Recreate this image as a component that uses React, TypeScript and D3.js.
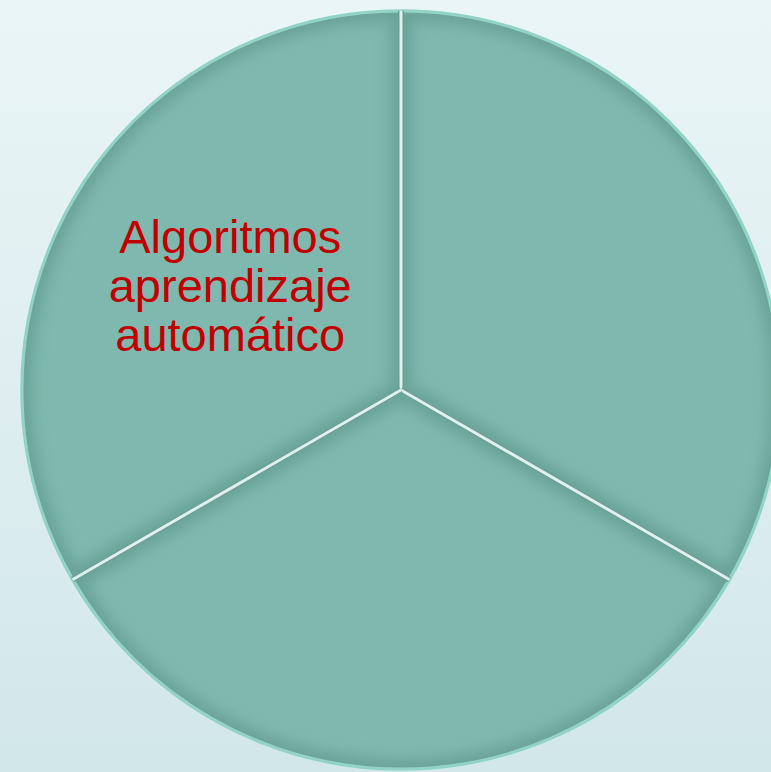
import * as d3 from "d3";

const etiquetas = ["", "", "Algoritmos aprendizaje automático"];
const valores = [1, 1, 1];

const ANCHO = 771;
const ALTO = 772;

export default function App() {
  const cx = 401;
  const cy = 390;
  const radio = 380;

  const pie = d3.pie<number>().sort(null).startAngle(0).endAngle(2 * Math.PI);
  const arcos = pie(valores);
  const arco = d3.arc<d3.PieArcDatum<number>>().innerRadius(0).outerRadius(radio);
  const arcoEtiqueta = d3.arc<d3.PieArcDatum<number>>().innerRadius(0).outerRadius(radio * 1.05);

  return (
    <svg
      width={ANCHO}
      height={ALTO}
      viewBox={`0 0 ${ANCHO} ${ALTO}`}
      style={{ position: "fixed", top: 0, left: 0, display: "block" }}
    >
      <defs>
        <linearGradient id="fondo" x1="0" y1="0" x2="0" y2="1">
          <stop offset="0%" stopColor="#eaf5f7" />
          <stop offset="100%" stopColor="#d2e7ea" />
        </linearGradient>
        <filter id="desenfoque" x="-20%" y="-20%" width="140%" height="140%">
          <feGaussianBlur stdDeviation="7" />
        </filter>
        {arcos.map((a, i) => (
          <clipPath key={i} id={`recorte-${i}`}>
            <path d={arco(a) || ""} />
          </clipPath>
        ))}
      </defs>
      <rect width={ANCHO} height={ALTO} fill="url(#fondo)" />
      <g transform={`translate(${cx},${cy})`}>
        {arcos.map((a, i) => (
          <g key={i} clipPath={`url(#recorte-${i})`}>
            <path d={arco(a) || ""} fill="#7fb8ae" />
            <path
              d={arco(a) || ""}
              fill="none"
              stroke="#4f8a80"
              strokeOpacity={0.45}
              strokeWidth={22}
              filter="url(#desenfoque)"
            />
            <path d={arco(a) || ""} fill="none" stroke="#9fe0d2" strokeWidth={5} strokeOpacity={0.8} />
          </g>
        ))}
        {arcos.map((a, i) => {
          const ang = a.startAngle;
          const x2 = Math.sin(ang) * radio;
          const y2 = -Math.cos(ang) * radio;
          return (
            <g key={`sep-${i}`}>
              <line x1={0} y1={0} x2={x2} y2={y2} stroke="#6a9f96" strokeWidth={6} />
              <line x1={0} y1={0} x2={x2} y2={y2} stroke="#dff0ef" strokeWidth={3} />
            </g>
          );
        })}
        <circle r={radio} fill="none" stroke="#8fd3c6" strokeWidth={1.5} />
        {arcos.map((a, i) => {
          if (!etiquetas[i]) return null;
          const [tx, ty] = arcoEtiqueta.centroid(a);
          const lineas = etiquetas[i].split(" ");
          const interlineado = 49;
          return (
            <text
              key={`t-${i}`}
              x={tx}
              y={ty}
              textAnchor="middle"
              fill="#c00000"
              fontFamily="'Liberation Sans', Arial, sans-serif"
              fontSize={47}
            >
              {lineas.map((l, j) => (
                <tspan key={j} x={tx + 2} y={ty + (j - (lineas.length - 1) / 2) * interlineado + 12}>
                  {l}
                </tspan>
              ))}
            </text>
          );
        })}
      </g>
    </svg>
  );
}
